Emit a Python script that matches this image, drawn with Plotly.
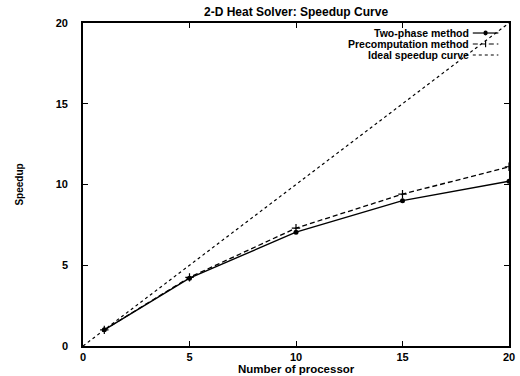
import plotly.graph_objects as go

processors = [1, 5, 10, 15, 20]
two_phase = [1.0, 4.2, 7.05, 9.0, 10.2]
precomputation = [1.0, 4.25, 7.3, 9.4, 11.1]
ideal_x = [0, 5, 10, 15, 20]
ideal_y = [0, 5, 10, 15, 20]
tick_vals = [0, 5, 10, 15, 20]
legend_names = ["Two-phase method", "Precomputation method", "Ideal speedup curve"]

FONT = "Liberation Sans"
DASH = "5px,3px"
fig = go.Figure()
fig.add_trace(go.Scatter(x=ideal_x, y=ideal_y, mode="lines",
                         line=dict(color="black", width=1.2, dash="dot"),
                         name=legend_names[2], showlegend=False))
fig.add_trace(go.Scatter(x=processors, y=precomputation, mode="lines+markers",
                         line=dict(color="black", width=1.3, dash=DASH),
                         marker=dict(symbol="cross-thin", size=6, line=dict(color="black", width=1.2)),
                         name=legend_names[1], showlegend=False))
fig.add_trace(go.Scatter(x=processors, y=two_phase, mode="lines+markers",
                         line=dict(color="black", width=1.4),
                         marker=dict(symbol="circle", size=5, color="black"),
                         name=legend_names[0], showlegend=False))

# custom legend (text left of sample, as in the reference)
leg_y = [0.969, 0.935, 0.901]
dashes = ["solid", DASH, "dot"]
for txt, dash, yy in zip(legend_names, dashes, leg_y):
    fig.add_annotation(xref="paper", yref="paper", x=0.908, y=yy, text="<b>" + txt + "</b>",
                       showarrow=False, xanchor="right", yanchor="middle", borderpad=0,
                       font=dict(family=FONT, size=10.5, color="black"))
    fig.add_shape(type="line", xref="paper", yref="paper", x0=0.915, x1=0.975, y0=yy, y1=yy,
                  line=dict(color="black", width=1.2, dash=dash))
fig.add_shape(type="circle", xref="paper", yref="paper", x0=0.940, x1=0.950,
              y0=leg_y[0] - 0.0075, y1=leg_y[0] + 0.0075, fillcolor="black",
              line=dict(color="black", width=0))
fig.add_shape(type="line", xref="paper", yref="paper", x0=0.945, x1=0.945,
              y0=leg_y[1] - 0.01, y1=leg_y[1] + 0.01, line=dict(color="black", width=1.2))

axis_common = dict(showgrid=False, zeroline=False, showline=True, linecolor="black", linewidth=1.6,
                   mirror="ticks", ticks="inside", ticklen=5, tickcolor="black", tickwidth=1.2,
                   tickvals=tick_vals, ticktext=["<b>%d</b>" % v for v in tick_vals],
                   tickfont=dict(family=FONT, size=11, color="black"))
fig.update_xaxes(range=[0, 20], ticklabelstandoff=0, **axis_common)
fig.update_yaxes(range=[0, 20], ticklabelstandoff=11, **axis_common)

# titles
fig.add_annotation(xref="paper", yref="paper", x=0.5, y=-0.071, text="<b>Number of processor</b>",
                   showarrow=False, xanchor="center", yanchor="middle",
                   font=dict(family=FONT, size=11.5, color="black"))
fig.add_annotation(xref="paper", yref="paper", x=-0.150, y=0.50, text="<b>Speedup</b>",
                   showarrow=False, xanchor="center", yanchor="middle", textangle=-90,
                   font=dict(family=FONT, size=10, color="black"))
fig.add_annotation(xref="paper", yref="paper", x=0.5, y=1.034, text="<b>2-D Heat Solver: Speedup Curve</b>",
                   showarrow=False, xanchor="center", yanchor="middle",
                   font=dict(family=FONT, size=12, color="black"))

fig.update_layout(width=520, height=376, margin=dict(l=83, r=5, t=23, b=30),
                  plot_bgcolor="white", paper_bgcolor="white")
fig.write_html("out.html", config={"displayModeBar": False},
               post_script="document.body.style.margin='0px';")
